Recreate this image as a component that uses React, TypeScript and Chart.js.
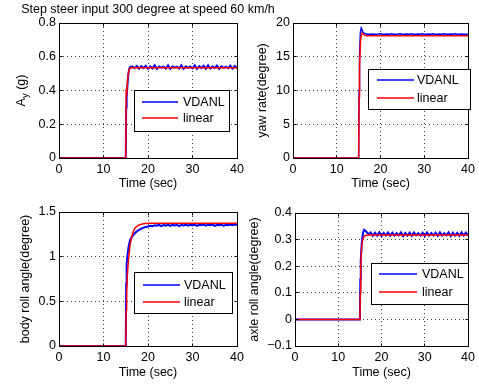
import { useEffect, useRef } from 'react';
import { Chart, registerables } from 'chart.js';

Chart.register(...registerables);

const FONT = '"Liberation Sans", Arial, Helvetica, sans-serif';
const BLUE = '#0000ff';
const RED = '#ff0000';

// ---------------- data ----------------
const titleText = 'Step steer input 300 degree at speed 60 km/h';
const xTitle = 'Time (sec)';
const seriesNames = ['VDANL', 'linear'];

const time = [
  0, 5, 10, 15, 15.1, 15.2, 15.4, 15.6, 15.8,
  16, 16.5, 17, 17.5, 18, 18.5, 19, 19.5,
  20, 20.5, 21, 21.5, 22, 22.5, 23, 23.5,
  24, 24.5, 25, 25.5, 26, 26.5, 27, 27.5,
  28, 28.5, 29, 29.5, 30, 30.5, 31, 31.5,
  32, 32.5, 33, 33.5, 34, 34.5, 35, 35.5,
  36, 36.5, 37, 37.5, 38, 38.5, 39, 39.5,
  40,
];
const timeTicks = [0, 10, 20, 30, 40];

const ayVdanl = [
  0, 0, 0, 0, 0.3, 0.36, 0.44, 0.5, 0.53,
  0.54, 0.542, 0.534, 0.546, 0.529, 0.544, 0.533, 0.547,
  0.529, 0.543, 0.531, 0.549, 0.528, 0.542, 0.535, 0.541,
  0.53, 0.549, 0.528, 0.542, 0.535, 0.541, 0.53, 0.549,
  0.528, 0.543, 0.534, 0.542, 0.531, 0.549, 0.528, 0.544,
  0.533, 0.546, 0.529, 0.549, 0.53, 0.542, 0.534, 0.548,
  0.528, 0.543, 0.534, 0.541, 0.532, 0.547, 0.529, 0.545,
  0.533,
];
const ayLinear = [
  0, 0, 0, 0, 0.41, 0.37, 0.46, 0.505, 0.525,
  0.533, 0.535, 0.535, 0.535, 0.535, 0.535, 0.535, 0.535,
  0.535, 0.535, 0.535, 0.535, 0.535, 0.535, 0.535, 0.535,
  0.535, 0.535, 0.535, 0.535, 0.535, 0.535, 0.535, 0.535,
  0.535, 0.535, 0.535, 0.535, 0.535, 0.535, 0.535, 0.535,
  0.535, 0.535, 0.535, 0.535, 0.535, 0.535, 0.535, 0.535,
  0.535, 0.535, 0.535, 0.535, 0.535, 0.535, 0.535, 0.535,
  0.535,
];
const ayTicks = [0, 0.2, 0.4, 0.6, 0.8];

const yawVdanl = [
  0, 0, 0, 0, 10, 15, 18.6, 19.25, 19.0,
  18.6, 18.4, 18.35, 18.34, 18.36, 18.35, 18.33, 18.36,
  18.42, 18.34, 18.35, 18.36, 18.33, 18.41, 18.35, 18.34,
  18.36, 18.42, 18.34, 18.35, 18.36, 18.33, 18.42, 18.35,
  18.34, 18.36, 18.35, 18.42, 18.33, 18.35, 18.36, 18.34,
  18.42, 18.35, 18.33, 18.36, 18.35, 18.42, 18.34, 18.35,
  18.36, 18.33, 18.42, 18.35, 18.34, 18.36, 18.35, 18.34,
  18.35,
];
const yawLinear = [
  0, 0, 0, 0, 9, 13.5, 17, 18.3, 18.5,
  18.4, 18.15, 18.1, 18.1, 18.1, 18.1, 18.1, 18.1,
  18.1, 18.1, 18.1, 18.1, 18.1, 18.1, 18.1, 18.1,
  18.1, 18.1, 18.1, 18.1, 18.1, 18.1, 18.1, 18.1,
  18.1, 18.1, 18.1, 18.1, 18.1, 18.1, 18.1, 18.1,
  18.1, 18.1, 18.1, 18.1, 18.1, 18.1, 18.1, 18.1,
  18.1, 18.1, 18.1, 18.1, 18.1, 18.1, 18.1, 18.1,
  18.1,
];
const yawTicks = [0, 5, 10, 15, 20];

const bodyVdanl = [
  0, 0, 0, 0, 0.7, 0.92, 1.02, 1.1, 1.15,
  1.19, 1.23, 1.26, 1.285, 1.3, 1.315, 1.325, 1.332,
  1.338, 1.345, 1.342, 1.352, 1.346, 1.356, 1.343, 1.355,
  1.348, 1.357, 1.344, 1.356, 1.349, 1.357, 1.343, 1.356,
  1.35, 1.358, 1.346, 1.357, 1.351, 1.358, 1.344, 1.357,
  1.352, 1.359, 1.347, 1.358, 1.352, 1.359, 1.345, 1.357,
  1.351, 1.36, 1.344, 1.358, 1.353, 1.36, 1.352, 1.36,
  1.358,
];
const bodyLinear = [
  0, 0, 0, 0, 0.4, 0.6, 0.82, 0.96, 1.06,
  1.14, 1.255, 1.315, 1.34, 1.355, 1.363, 1.368, 1.371,
  1.373, 1.373, 1.373, 1.373, 1.373, 1.373, 1.373, 1.373,
  1.373, 1.373, 1.373, 1.373, 1.373, 1.373, 1.373, 1.373,
  1.373, 1.373, 1.373, 1.373, 1.373, 1.373, 1.373, 1.373,
  1.373, 1.373, 1.373, 1.373, 1.373, 1.373, 1.373, 1.373,
  1.373, 1.373, 1.373, 1.373, 1.373, 1.373, 1.373, 1.373,
  1.373,
];
const bodyTicks = [0, 0.5, 1, 1.5];

const axleVdanl = [
  0, 0, 0, 0, 0.15, 0.22, 0.28, 0.31, 0.33,
  0.337, 0.33, 0.32, 0.327, 0.314, 0.326, 0.315, 0.328,
  0.313, 0.325, 0.316, 0.327, 0.314, 0.326, 0.315, 0.324,
  0.316, 0.327, 0.313, 0.325, 0.315, 0.326, 0.314, 0.327,
  0.316, 0.324, 0.315, 0.326, 0.313, 0.327, 0.315, 0.325,
  0.316, 0.326, 0.314, 0.327, 0.315, 0.324, 0.316, 0.327,
  0.313, 0.326, 0.315, 0.325, 0.314, 0.327, 0.315, 0.326,
  0.316,
];
const axleLinear = [
  0, 0, 0, 0, 0.1, 0.2, 0.27, 0.295, 0.307,
  0.313, 0.316, 0.317, 0.317, 0.317, 0.317, 0.317, 0.317,
  0.317, 0.317, 0.317, 0.317, 0.317, 0.317, 0.317, 0.317,
  0.317, 0.317, 0.317, 0.317, 0.317, 0.317, 0.317, 0.317,
  0.317, 0.317, 0.317, 0.317, 0.317, 0.317, 0.317, 0.317,
  0.317, 0.317, 0.317, 0.317, 0.317, 0.317, 0.317, 0.317,
  0.317, 0.317, 0.317, 0.317, 0.317, 0.317, 0.317, 0.317,
  0.317,
];
const axleTicks = [-0.1, 0, 0.1, 0.2, 0.3, 0.4];

// ---------------- layout ----------------
const W = 479;
const H = 385;
const Y_AXIS_W = 50;
const X_AXIS_H = 35;
const FS = 12.5;
const SUB_FS = 9.5;
const LINE_H = FS * 1.2;

type Legend = { x0: number; y0: number; x1: number; y1: number; lx0: number; lx1: number; tx: number; rows: number[] };
type PanelCfg = {
  key: string;
  vdanl: number[];
  linear: number[];
  ticks: number[];
  yTitle: string | null;
  area: { l: number; r: number; t: number; b: number };
  yTitleX: number;
  xTitleY: number;
  legend: Legend;
  vWidth: number;
  main?: boolean;
};

const panels: PanelCfg[] = [
  {
    key: 'ay', vdanl: ayVdanl, linear: ayLinear, ticks: ayTicks, yTitle: null,
    area: { l: 59, r: 237, t: 23, b: 158 }, yTitleX: 20, xTitleY: 184,
    legend: { x0: 134, y0: 90, x1: 229, y1: 131, lx0: 142, lx1: 178, tx: 183, rows: [102, 118] },
    vWidth: 2, main: true,
  },
  {
    key: 'yaw', vdanl: yawVdanl, linear: yawLinear, ticks: yawTicks, yTitle: 'yaw rate(degree)',
    area: { l: 293, r: 471, t: 23, b: 158 }, yTitleX: 263, xTitleY: 184,
    legend: { x0: 368, y0: 69, x1: 470, y1: 109, lx0: 377, lx1: 414, tx: 417, rows: [80, 98] },
    vWidth: 1.5,
  },
  {
    key: 'body', vdanl: bodyVdanl, linear: bodyLinear, ticks: bodyTicks, yTitle: 'body roll angle(degree)',
    area: { l: 59, r: 237, t: 212, b: 346 }, yTitleX: 25.7, xTitleY: 372.5,
    legend: { x0: 134, y0: 272, x1: 232, y1: 313, lx0: 143, lx1: 180, tx: 184, rows: [285, 302] },
    vWidth: 2,
  },
  {
    key: 'axle', vdanl: axleVdanl, linear: axleLinear, ticks: axleTicks, yTitle: 'axle roll angle(degree)',
    area: { l: 295, r: 470, t: 213, b: 346 }, yTitleX: 254.3, xTitleY: 372.5,
    legend: { x0: 371, y0: 263, x1: 468, y1: 304, lx0: 379, lx1: 417, tx: 422, rows: [274, 292] },
    vWidth: 2,
  },
];

const fmt = (v: number) => {
  const s = String(Number(v.toFixed(3)));
  return v < 0 ? '\u2212' + s.slice(1) : s;
};

const al = (v: number) => Math.round(v - 0.5) + 0.5;

function framePlugin(p: PanelCfg) {
  return {
    id: 'frame-' + p.key,
    afterDatasetsDraw(chart: any) {
      const { ctx, chartArea: a, scales } = chart;
      const L = al(a.left), R = al(a.right), T = al(a.top), B = al(a.bottom);
      ctx.save();
      ctx.strokeStyle = '#000';
      ctx.lineWidth = 1;
      ctx.setLineDash([]);
      ctx.strokeRect(L, T, R - L, B - T);
      const tk = 3;
      ctx.beginPath();
      for (const v of timeTicks) {
        const x = al(scales.x.getPixelForValue(v));
        ctx.moveTo(x, B); ctx.lineTo(x, B - tk);
        ctx.moveTo(x, T); ctx.lineTo(x, T + tk);
      }
      for (const v of p.ticks) {
        const y = al(scales.y.getPixelForValue(v));
        ctx.moveTo(L, y); ctx.lineTo(L + tk, y);
        ctx.moveTo(R, y); ctx.lineTo(R - tk, y);
      }
      ctx.stroke();

      // legend
      const lg = p.legend;
      ctx.fillStyle = '#fff';
      ctx.fillRect(lg.x0, lg.y0, lg.x1 - lg.x0, lg.y1 - lg.y0);
      ctx.strokeStyle = '#000';
      ctx.strokeRect(al(lg.x0), al(lg.y0), Math.round(lg.x1 - lg.x0), Math.round(lg.y1 - lg.y0));
      const colors = [BLUE, RED];
      ctx.font = `${FS}px ${FONT}`;
      ctx.textBaseline = 'middle';
      ctx.textAlign = 'left';
      seriesNames.forEach((name, i) => {
        const y = lg.rows[i];
        ctx.strokeStyle = colors[i];
        ctx.lineWidth = 1.5;
        ctx.beginPath();
        ctx.moveTo(lg.lx0, y);
        ctx.lineTo(lg.lx1, y);
        ctx.stroke();
        ctx.fillStyle = '#000';
        ctx.fillText(name, lg.tx, y + 0.5);
      });

      if (p.main) {
        ctx.fillStyle = '#000';
        ctx.font = `${FS}px ${FONT}`;
        ctx.textAlign = 'center';
        ctx.textBaseline = 'middle';
        ctx.fillText(titleText, (a.left + a.right) / 2, 9.5);

        // A_y (g) rotated label
        const cy = (a.top + a.bottom) / 2;
        ctx.translate(24.5, cy);
        ctx.rotate(-Math.PI / 2);
        ctx.textAlign = 'left';
        ctx.textBaseline = 'alphabetic';
        ctx.font = `${FS}px ${FONT}`;
        const wA = ctx.measureText('A').width;
        const wRest = ctx.measureText(' (g)').width;
        ctx.font = `${SUB_FS}px ${FONT}`;
        const wy = ctx.measureText('y').width;
        const total = wA + wy + wRest;
        let u = -total / 2;
        ctx.font = `${FS}px ${FONT}`;
        ctx.fillText('A', u, 0);
        u += wA;
        ctx.font = `${SUB_FS}px ${FONT}`;
        ctx.fillText('y', u, 3);
        u += wy;
        ctx.font = `${FS}px ${FONT}`;
        ctx.fillText(' (g)', u, 0);
      }
      ctx.restore();
    },
  };
}

function PanelChart({ p }: { p: PanelCfg }) {
  const ref = useRef<HTMLCanvasElement>(null);
  useEffect(() => {
    const canvas = ref.current!;
    const { l, r, t, b } = p.area;
    const font = { size: FS, family: FONT };
    const grid = { color: '#404040', lineWidth: 1, drawTicks: false };
    const border = { display: false, dash: [1, 3] };
    const chart = new Chart(canvas, {
      type: 'line',
      data: {
        datasets: [
          {
            label: seriesNames[1],
            data: time.map((x, i) => ({ x, y: p.linear[i] })),
            borderColor: RED, backgroundColor: RED, borderWidth: 1.5,
            pointRadius: 0, tension: 0, fill: false, order: 0,
          },
          {
            label: seriesNames[0],
            data: time.map((x, i) => ({ x, y: p.vdanl[i] })),
            borderColor: BLUE, backgroundColor: BLUE, borderWidth: p.vWidth,
            pointRadius: 0, tension: 0, fill: false, order: 1,
          },
        ],
      },
      options: {
        responsive: false,
        animation: false,
        events: [],
        layout: { padding: { left: l - Y_AXIS_W, right: W - r, top: t, bottom: H - b - X_AXIS_H } },
        plugins: { legend: { display: false }, tooltip: { enabled: false }, title: { display: false } },
        scales: {
          x: {
            type: 'linear', min: 0, max: 40,
            afterBuildTicks: (s: any) => { s.ticks = timeTicks.map((v) => ({ value: v })); },
            afterFit: (s: any) => { s.height = X_AXIS_H; },
            grid, border,
            ticks: { padding: 4, color: '#000', font, maxRotation: 0, autoSkip: false, callback: (v: any) => fmt(Number(v)) },
            title: {
              display: true, text: xTitle, color: '#000', font,
              padding: { top: 0, bottom: b + X_AXIS_H - LINE_H / 2 - p.xTitleY },
            },
          },
          y: {
            type: 'linear', min: p.ticks[0], max: p.ticks[p.ticks.length - 1],
            afterBuildTicks: (s: any) => { s.ticks = p.ticks.map((v) => ({ value: v })); },
            afterFit: (s: any) => { s.width = Y_AXIS_W; },
            grid, border,
            ticks: { padding: 3, color: '#000', font, autoSkip: false, callback: (v: any) => fmt(Number(v)) },
            title: {
              display: !!p.yTitle, text: p.yTitle || '', color: '#000', font,
              padding: { top: p.yTitleX - (l - Y_AXIS_W) - LINE_H / 2, bottom: 0 },
            },
          },
        },
      } as any,
      plugins: [framePlugin(p)],
    });
    return () => chart.destroy();
  }, [p]);
  return <canvas ref={ref} width={W} height={H} style={{ position: 'absolute', left: 0, top: 0 }} />;
}

export default function App() {
  return (
    <div style={{ position: 'absolute', left: 0, top: 0, width: W, height: H, background: '#fff', overflow: 'hidden' }}>
      {panels.map((p) => (
        <PanelChart key={p.key} p={p} />
      ))}
    </div>
  );
}
